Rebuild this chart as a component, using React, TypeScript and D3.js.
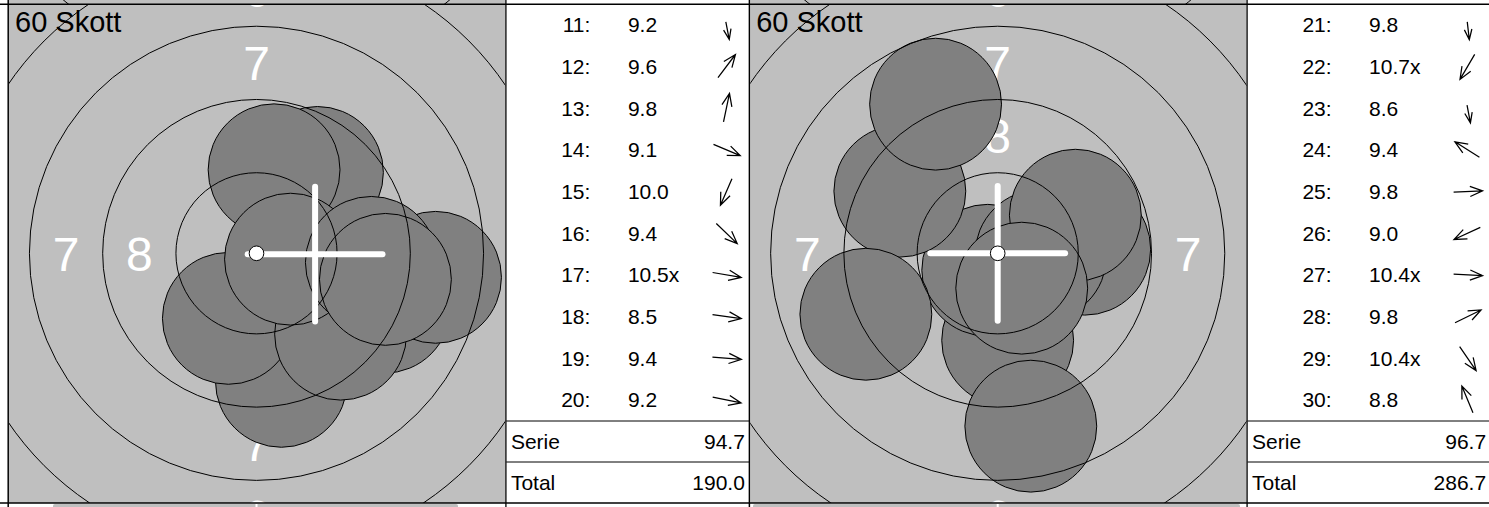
import React from 'react';
import * as d3 from 'd3';

// ---------- data ----------
const TITLE = '60 Skott';
const RING_RADII_MM = [0.25, 2.75, 5.25, 7.75, 10.25, 12.75, 15.25]; // rings 10..4
const RING_LABEL_VALUES = [8, 7, 6, 5];
const LABEL_RADII_MM = [4.0, 6.5, 9.0, 11.5];

const SHOT_NUMBERS_A = [11, 12, 13, 14, 15, 16, 17, 18, 19, 20];
const SHOT_SCORES_A = ['9.2', '9.6', '9.8', '9.1', '10.0', '9.4', '10.5x', '8.5', '9.4', '9.2'];
const SHOT_X_A = [0.85, 2.08, 0.6, 4.37, -0.96, 2.87, 1.16, 6.11, 3.92, 4.4];
const SHOT_Y_A = [-4.37, 2.76, 2.85, -1.84, -2.22, -2.76, -0.2, -0.82, -0.31, -0.89];
const MEAN_A = [2.0, -0.03];
const SERIE_A = '94.7';
const TOTAL_A = '190.0';

const SHOT_NUMBERS_B = [21, 22, 23, 24, 25, 26, 27, 28, 29, 30];
const SHOT_SCORES_B = ['9.8', '10.7x', '8.6', '9.4', '9.8', '9.0', '10.4x', '9.8', '10.4x', '8.8'];
const SHOT_X_B = [0.34, -0.34, 1.13, -3.34, 2.97, -4.5, 1.47, 2.65, 0.82, -2.12];
const SHOT_Y_B = [-2.97, -0.58, -5.9, 2.12, 0.14, -2.08, -0.07, 1.3, -1.19, 5.09];
const MEAN_B = [0.0, 0.0];
const SERIE_B = '96.7';
const TOTAL_B = '286.7';

const SUM_LABEL = 'Serie';
const TOTAL_LABEL = 'Total';

// ---------- layout ----------
const W = 1489;
const H = 507;
const PX_PER_MM = 29.3;
const PELLET_R_MM = 2.25;
const CROSS_MM = 2.3;
const TOP = 4.2;
const BOTTOM = 503;
const TARGET_W = 497.7;
const TABLE_W = 243.5;
const CY = 253.3;
const FONT = 'Liberation Sans, Arial, Helvetica, sans-serif';
const BG = '#bfbfbf';
const SHOT_FILL = '#808080';

type PanelData = {
  nums: number[];
  scores: string[];
  xs: number[];
  ys: number[];
  mean: number[];
  serie: string;
  total: string;
};

const PANELS: PanelData[] = [
  { nums: SHOT_NUMBERS_A, scores: SHOT_SCORES_A, xs: SHOT_X_A, ys: SHOT_Y_A, mean: MEAN_A, serie: SERIE_A, total: TOTAL_A },
  { nums: SHOT_NUMBERS_B, scores: SHOT_SCORES_B, xs: SHOT_X_B, ys: SHOT_Y_B, mean: MEAN_B, serie: SERIE_B, total: TOTAL_B },
];

function Arrow({ cx, cy, angle }: { cx: number; cy: number; angle: number }) {
  const dx = Math.cos(angle);
  const dy = Math.sin(angle);
  // near-vertical downward arrows are drawn shorter in the reference
  const down = dy > 0.93;
  const L = down ? 18 : 29;
  const head = down ? 11 : 13.5;
  const spread = ((down ? 20 : 22) * Math.PI) / 180;
  const hx = cx + dx * 15;
  const hy = cy + dy * 15;
  const tx = hx - dx * L;
  const ty = hy - dy * L;
  const a1 = angle + Math.PI - spread;
  const a2 = angle + Math.PI + spread;
  const p = d3.path();
  p.moveTo(tx, ty);
  p.lineTo(hx, hy);
  p.moveTo(hx + Math.cos(a1) * head, hy + Math.sin(a1) * head);
  p.lineTo(hx, hy);
  p.lineTo(hx + Math.cos(a2) * head, hy + Math.sin(a2) * head);
  return <path d={p.toString()} fill="none" stroke="#000" strokeWidth={1.25} strokeLinejoin="miter" />;
}

function Panel({ data, left, idx, nextBar }: { data: PanelData; left: number; idx: number; nextBar: number[] }) {
  const greyL = left + 0.8;
  const cx = greyL + 247.5;
  const x = d3.scaleLinear().domain([0, 1]).range([cx, cx + PX_PER_MM]);
  const y = d3.scaleLinear().domain([0, 1]).range([CY, CY - PX_PER_MM]);
  const r = (mm: number) => mm * PX_PER_MM;
  const clipId = `clip-${idx}`;
  const tableL = left + TARGET_W;
  const rowTop = TOP;
  const rowH = (421 - TOP) / 10;
  const digitH = 15;
  const shots = data.xs.map((sx, i) => ({ sx, sy: data.ys[i] }));
  const prevCY = -230;
  return (
    <g>
      <defs>
        <clipPath id={clipId}>
          <rect x={greyL} y={TOP} width={TARGET_W - 1.2} height={BOTTOM - TOP} />
        </clipPath>
        <clipPath id={`${clipId}-prev`}>
          <rect x={greyL} y={-5} width={TARGET_W - 1.2} height={TOP + 5} />
        </clipPath>
      </defs>
      {/* previous row remnant */}
      <g clipPath={`url(#${clipId}-prev)`}>
        <rect x={greyL} y={-5} width={TARGET_W} height={TOP + 5} fill={BG} />
        {RING_RADII_MM.slice(1).map((rr, i) => (
          <circle key={i} cx={cx} cy={prevCY} r={r(rr)} fill="none" stroke="#000" strokeWidth={1} />
        ))}
      </g>
      {/* target */}
      <g clipPath={`url(#${clipId})`}>
        <rect x={greyL} y={TOP} width={TARGET_W} height={BOTTOM - TOP} fill={BG} />
        {RING_LABEL_VALUES.map((v, i) => {
          const d = r(LABEL_RADII_MM[i]);
          const pos = [
            [cx, CY - d],
            [cx, CY + d],
            [cx - d, CY],
            [cx + d, CY],
          ];
          return pos.map((pp, j) => (
            <text
              key={`${i}-${j}`}
              x={pp[0]}
              y={pp[1] + 17.2}
              fill="#fff"
              fontFamily={FONT}
              fontSize={48}
              textAnchor="middle"
            >
              {v}
            </text>
          ));
        })}
        {shots.map((s, i) => (
          <circle
            key={`s${i}`}
            cx={x(s.sx)}
            cy={y(s.sy)}
            r={r(PELLET_R_MM)}
            fill={SHOT_FILL}
            stroke="#000"
            strokeWidth={1}
          />
        ))}
        {RING_RADII_MM.slice(1).map((rr, i) => (
          <circle key={`r${i}`} cx={cx} cy={CY} r={r(rr)} fill="none" stroke="#000" strokeWidth={1} />
        ))}
        <g stroke="#fff" strokeWidth={6} strokeLinecap="round">
          <line x1={x(data.mean[0] - CROSS_MM)} x2={x(data.mean[0] + CROSS_MM)} y1={y(data.mean[1])} y2={y(data.mean[1])} />
          <line x1={x(data.mean[0])} x2={x(data.mean[0])} y1={y(data.mean[1] - CROSS_MM)} y2={y(data.mean[1] + CROSS_MM)} />
        </g>
        <circle cx={cx} cy={CY} r={r(RING_RADII_MM[0])} fill="#fff" stroke="#000" strokeWidth={1} />
        <text x={greyL + 6} y={32.3} fontFamily={FONT} fontSize={29} fill="#000">
          {TITLE}
        </text>
      </g>
      {/* table */}
      <rect x={tableL} y={TOP} width={TABLE_W} height={BOTTOM - TOP} fill="#fff" />
      {data.nums.map((n, i) => {
        const base = rowTop + rowH * i + 28.1;
        const ang = Math.atan2(-data.ys[i], data.xs[i]);
        return (
          <g key={n}>
            <text x={tableL + 84.5} y={base} textAnchor="end" fontFamily={FONT} fontSize={21} fill="#000">
              {n}:
            </text>
            <text x={tableL + 122} y={base} fontFamily={FONT} fontSize={21} fill="#000">
              {data.scores[i]}
            </text>
            <Arrow cx={tableL + 220.5} cy={base - digitH / 2} angle={ang} />
          </g>
        );
      })}
      <line x1={tableL} x2={tableL + TABLE_W} y1={421} y2={421} stroke="#000" strokeWidth={1} />
      <line x1={tableL} x2={tableL + TABLE_W} y1={462} y2={462} stroke="#000" strokeWidth={1} />
      <text x={tableL + 5} y={449.3} fontFamily={FONT} fontSize={21} fill="#000">
        {SUM_LABEL}
      </text>
      <text x={tableL + 239} y={449.3} textAnchor="end" fontFamily={FONT} fontSize={21} fill="#000">
        {data.serie}
      </text>
      <text x={tableL + 5} y={490.3} fontFamily={FONT} fontSize={21} fill="#000">
        {TOTAL_LABEL}
      </text>
      <text x={tableL + 239} y={490.3} textAnchor="end" fontFamily={FONT} fontSize={21} fill="#000">
        {data.total}
      </text>
      {/* grid lines */}
      <line x1={left} x2={left} y1={-5} y2={H + 5} stroke="#000" strokeWidth={1.5} />
      <line x1={tableL} x2={tableL} y1={-5} y2={H + 5} stroke="#222" strokeWidth={1.5} />
      {/* next row remnant */}
      <rect x={nextBar[0]} y={BOTTOM + 1} width={nextBar[1] - nextBar[0]} height={6} fill={BG} rx={2} />
      <line x1={cx} x2={cx} y1={BOTTOM + 1} y2={H} stroke="#fff" strokeWidth={2} />
    </g>
  );
}

export default function App() {
  const lefts = [8.2, 749.4];
  const bars = [
    [53, 458],
    [753, 1240],
  ];
  return (
    <svg
      width={W}
      height={H}
      viewBox={`0 0 ${W} ${H}`}
      style={{ position: 'absolute', left: 0, top: 0, background: '#fff' }}
    >
      {PANELS.map((p, i) => (
        <Panel key={i} data={p} left={lefts[i]} idx={i} nextBar={bars[i]} />
      ))}
      <line x1={0} x2={W} y1={TOP} y2={TOP} stroke="#000" strokeWidth={1.5} />
      <line x1={0} x2={W} y1={BOTTOM} y2={BOTTOM} stroke="#000" strokeWidth={1.5} />
    </svg>
  );
}
